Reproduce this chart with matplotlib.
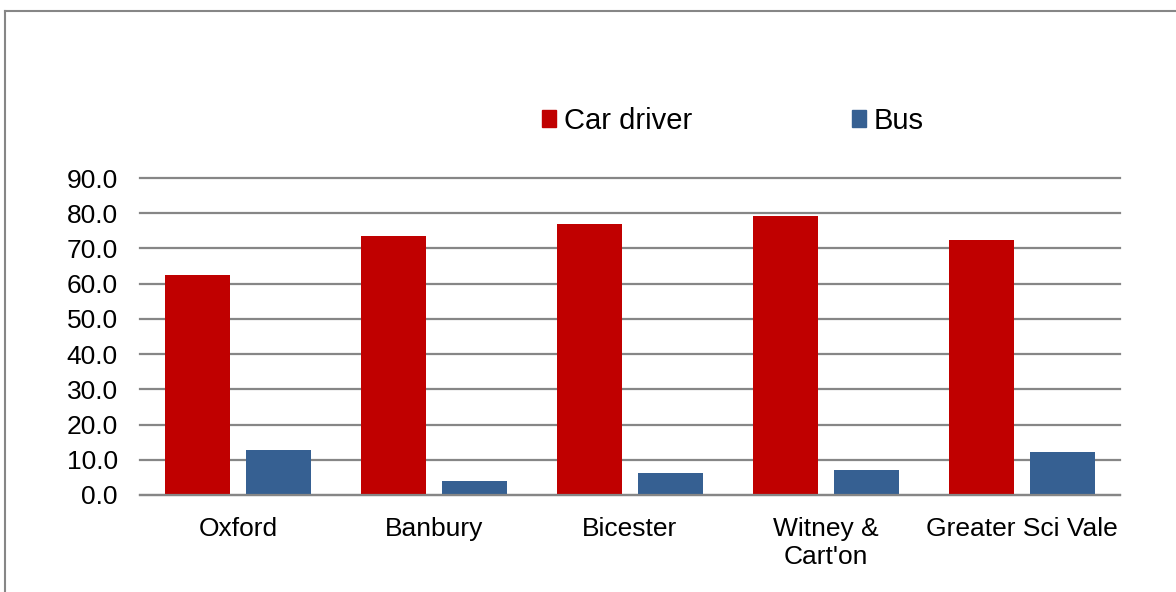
import numpy as np
import matplotlib.pyplot as plt
from matplotlib.lines import Line2D
from matplotlib.patches import Patch

plt.rcParams['font.family'] = ['Liberation Sans', 'DejaVu Sans']

# Datos
areas = ["Oxford", "Banbury", "Bicester", "Witney &\nCart'on", "Greater Sci Vale"]
car_driver = [62.5, 73.5, 76.8, 79.2, 72.3]
bus = [12.9, 3.9, 6.2, 7.2, 12.3]

car_color = "#C00000"
bus_color = "#366092"
grid_color = "#868686"

W, H = 1176, 592
fig = plt.figure(figsize=(W / 100, H / 100), dpi=100)
ax = fig.add_axes([140 / W, 1 - 495 / H, (1120 - 140) / W, (495 - 178) / H])

x = np.arange(len(areas))
bw = 0.333
gap = 0.083
ax.bar(x - (bw + gap) / 2, car_driver, bw, color=car_color, zorder=3)
ax.bar(x + (bw + gap) / 2, bus, bw, color=bus_color, zorder=3)

ax.set_xlim(-0.5, len(areas) - 0.5)
ax.set_ylim(0, 90)
ax.set_yticks(np.arange(0, 91, 10))
ax.set_yticklabels([f"{v:.1f}" for v in np.arange(0, 91, 10)], fontsize=19)
ax.set_xticks(x)
ax.set_xticklabels(areas, fontsize=19, linespacing=1.21)
ax.tick_params(axis="both", length=0)
ax.tick_params(axis="y", pad=16)
ax.tick_params(axis="x", pad=16)

ax.yaxis.grid(True, color=grid_color, linewidth=1.6, zorder=0)
for gl in ax.get_ygridlines():
    gl.set_clip_on(False)
for s in ["top", "right", "left"]:
    ax.spines[s].set_visible(False)
ax.spines["bottom"].set_color(grid_color)
ax.spines["bottom"].set_linewidth(1.6)
ax.spines["bottom"].set_zorder(4)

# Leyenda arriba
handles = [Patch(color=car_color), Patch(color=bus_color)]
fig.legend(handles, ["Car driver", "Bus"], loc="center", ncol=2,
           bbox_to_anchor=(733 / W, 1 - 121 / H), frameon=False,
           fontsize=21, handlelength=0.48, handleheight=0.5,
           handletextpad=0.25, columnspacing=5.5)

# Marco del gráfico (recortado)
fig.add_artist(Line2D([4.5 / W, 1], [1 - 10.5 / H, 1 - 10.5 / H],
                      transform=fig.transFigure, color=grid_color, lw=1.5))
fig.add_artist(Line2D([4.5 / W, 4.5 / W], [0, 1 - 10.5 / H],
                      transform=fig.transFigure, color=grid_color, lw=1.5))

fig.savefig("out.png", dpi=100, facecolor="white")
